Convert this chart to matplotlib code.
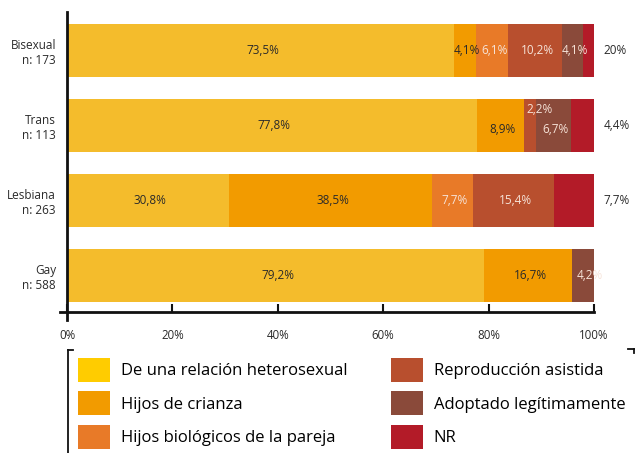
import matplotlib
matplotlib.use("Agg")
import matplotlib.pyplot as plt
from matplotlib.patches import Patch
from matplotlib.lines import Line2D

plt.rcParams['font.family'] = ['Open Sans', 'DejaVu Sans']

categories = ["Gay\nn: 588", "Lesbiana\nn: 263", "Trans\nn: 113", "Bisexual\nn: 173"]
series_names = ["De una relación heterosexual", "Hijos de crianza", "Hijos biológicos de la pareja",
                "Reproducción asistida", "Adoptado legítimamente", "NR"]
# values per series, order matches categories (Gay, Lesbiana, Trans, Bisexual)
heterosexual = [79.2, 30.8, 77.8, 73.5]
crianza = [16.7, 38.5, 8.9, 4.1]
biologicos = [0.0, 7.7, 0.0, 6.1]
reproduccion = [0.0, 15.4, 2.2, 10.2]
adoptado = [4.2, 0.0, 6.7, 4.1]
nr = [0.0, 7.7, 4.4, 2.0]
nr_labels = ["", "7,7%", "4,4%", "20%"]
xticks = [0, 20, 40, 60, 80, 100]
xtick_labels = ["0%", "20%", "40%", "60%", "80%", "100%"]

bar_colors = ["#F4BC2C", "#F29B00", "#E87A28", "#B84F2E", "#8A4A3A", "#B31B28"]
legend_colors = ["#FFCC00", "#F29B00", "#E87A28", "#B84F2E", "#8A4A3A", "#B31B28"]
text_colors = ["#2a2a2a", "#2a2a2a", "#f6e3d8", "#f6e3d8", "#f6e3d8", "#f6e3d8"]

fig = plt.figure(figsize=(6.4, 4.53), dpi=100)
ax = fig.add_axes([67/640, 1-312/453, (594-67)/640, 300/453])

series = [heterosexual, crianza, biologicos, reproduccion, adoptado, nr]
ypos = list(range(len(categories)))
left = [0.0]*len(categories)
for si, vals in enumerate(series):
    ax.barh(ypos, vals, left=left, height=0.71, color=bar_colors[si], linewidth=0)
    for yi, v in enumerate(vals):
        if v > 0 and si < 5:
            lab = f"{v:.1f}%".replace(".", ",")
            cx = left[yi] + v/2 + 0.4
            cy = yi
            if categories[yi].startswith("Trans"):
                if si == 3:
                    cy = yi + 0.21
                    cx = left[yi] + v + 0.7
                elif si in (1, 4):
                    cy = yi - 0.06
            if categories[yi].startswith("Gay") and si == 4:
                cx += 0.8
            ax.text(cx, cy, lab, ha="center", va="center", fontsize=8.5, color=text_colors[si])
    left = [l + v for l, v in zip(left, vals)]

for yi, lab in enumerate(nr_labels):
    if lab:
        ax.text(101.8, yi, lab, ha="left", va="center", fontsize=8.5, color="#2a2a2a", clip_on=False)

ax.set_xlim(0, 100)
ax.set_ylim(-0.487, 3.513)
ax.set_yticks(ypos)
ax.set_yticklabels(categories, fontsize=8.5, color="#2a2a2a", linespacing=1.2)
ax.tick_params(axis="y", length=0, pad=8)
ax.set_xticks(xticks)
ax.set_xticklabels(xtick_labels, fontsize=8.3, color="#2a2a2a")
ax.tick_params(axis="x", direction="in", length=6, width=1.5, color="#111111", pad=12)
for s in ["top", "right"]:
    ax.spines[s].set_visible(False)
for s in ["left", "bottom"]:
    ax.spines[s].set_linewidth(2)
    ax.spines[s].set_color("#111111")
ax.spines["bottom"].set_bounds(-1.4, 100)
ax.spines["left"].set_bounds(-0.594, 3.513)

handles = [Patch(facecolor=c, edgecolor="none") for c in legend_colors]
fig.legend(handles, series_names, ncol=2, loc="upper left", bbox_to_anchor=(73/640, 1-353/453),
           frameon=False, fontsize=12, handlelength=1.92, handleheight=1.85,
           handletextpad=0.66, labelspacing=0.55, columnspacing=2.58, borderaxespad=0, borderpad=0.3)
# bracket frame around the legend
fig.add_artist(Line2D([68/640, 68/640], [0, 1-350/453], color="#111111", lw=1.3, transform=fig.transFigure))
fig.add_artist(Line2D([68/640, 73/640], [1-350/453, 1-350/453], color="#111111", lw=1.3, transform=fig.transFigure))
fig.add_artist(Line2D([628/640, 634/640], [1-349/453, 1-349/453], color="#111111", lw=1.3, transform=fig.transFigure))
fig.add_artist(Line2D([634/640, 634/640], [1-349/453, 1-353/453], color="#111111", lw=1.3, transform=fig.transFigure))

fig.savefig("out.png", dpi=100)
